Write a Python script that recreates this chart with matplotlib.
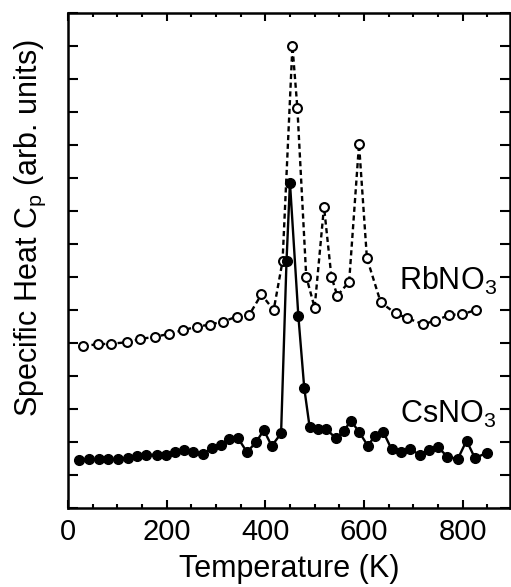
import matplotlib
matplotlib.use("Agg")
import matplotlib.pyplot as plt
from matplotlib.ticker import MultipleLocator, NullFormatter

plt.rcParams.update({
    "font.family": ["Liberation Sans", "DejaVu Sans"],
    "mathtext.fontset": "custom",
    "mathtext.rm": "Liberation Sans",
    "mathtext.it": "Liberation Sans",
})

# RbNO3 (open circles, dashed)
rb_T = [30, 60, 88, 119, 147, 176, 204, 233, 261, 288, 315, 342, 367, 392, 417,
        435, 455, 465, 483, 500, 519, 534, 546, 570, 590, 606, 634, 664, 688,
        720, 744, 773, 798, 828]
rb_cp = [4.91, 4.96, 4.98, 5.02, 5.12, 5.19, 5.27, 5.39, 5.49, 5.56, 5.65, 5.80,
         5.84, 6.47, 6.00, 7.48, 14.0, 12.13, 7.01, 6.07, 9.13, 7.01, 6.43, 6.86,
         11.03, 7.57, 6.23, 5.90, 5.75, 5.57, 5.67, 5.85, 5.87, 6.00]

# CsNO3 (filled circles, solid)
cs_T = [22, 42, 63, 82, 102, 122, 140, 159, 180, 199, 217, 235, 254, 274, 291,
        310, 327, 345, 363, 382, 397, 413, 432, 443, 450, 467, 479, 490, 507,
        524, 543, 560, 573, 590, 608, 622, 639, 656, 675, 693, 713, 731, 750,
        769, 790, 808, 825, 850]
cs_cp = [1.45, 1.47, 1.47, 1.48, 1.49, 1.52, 1.58, 1.62, 1.61, 1.61, 1.69, 1.76,
         1.69, 1.63, 1.81, 1.91, 2.09, 2.11, 1.69, 2.01, 2.36, 1.88, 2.26, 7.48,
         9.86, 5.82, 3.63, 2.44, 2.39, 2.39, 2.11, 2.34, 2.65, 2.31, 1.88, 2.19,
         2.31, 1.78, 1.71, 1.79, 1.61, 1.76, 1.84, 1.56, 1.48, 2.04, 1.51, 1.68]

fig = plt.figure(figsize=(5.11, 5.87), dpi=100)
ax = fig.add_axes([0.133, 0.1346, 0.865, 0.8433])

ax.plot(rb_T, rb_cp, color="black", lw=1.7, ls=(0, (2.2, 1.5)),
        marker="o", ms=6.4, mfc="white", mec="black", mew=1.5, zorder=3)
ax.plot(cs_T, cs_cp, color="black", lw=1.7, ls="-",
        marker="o", ms=7, mfc="black", mec="black", zorder=4)

ax.text(869, 6.62, r"RbNO$_3$", ha="right", va="baseline", fontsize=22)
ax.text(869, 2.58, r"CsNO$_3$", ha="right", va="baseline", fontsize=22)

ax.set_xlim(0, 896)
ax.set_ylim(0, 15)
ax.xaxis.set_major_locator(MultipleLocator(200))
ax.xaxis.set_minor_locator(MultipleLocator(50))
ax.yaxis.set_major_locator(MultipleLocator(1))
ax.yaxis.set_major_formatter(NullFormatter())
ax.tick_params(which="both", direction="in", top=True, right=True, width=1.5)
ax.tick_params(which="major", axis="x", length=6, labelsize=21, pad=7)
ax.tick_params(which="minor", axis="x", length=3)
ax.tick_params(which="major", axis="y", length=7)
for s in ax.spines.values():
    s.set_linewidth(1.8)

ax.set_xlabel("Temperature (K)", fontsize=22, labelpad=6)
ax.set_ylabel(r"Specific Heat C$_\mathregular{p}$ (arb. units)", fontsize=22)
ax.yaxis.set_label_coords(-0.045, 0.566)

fig.savefig("out.png", dpi=100, facecolor="white")
